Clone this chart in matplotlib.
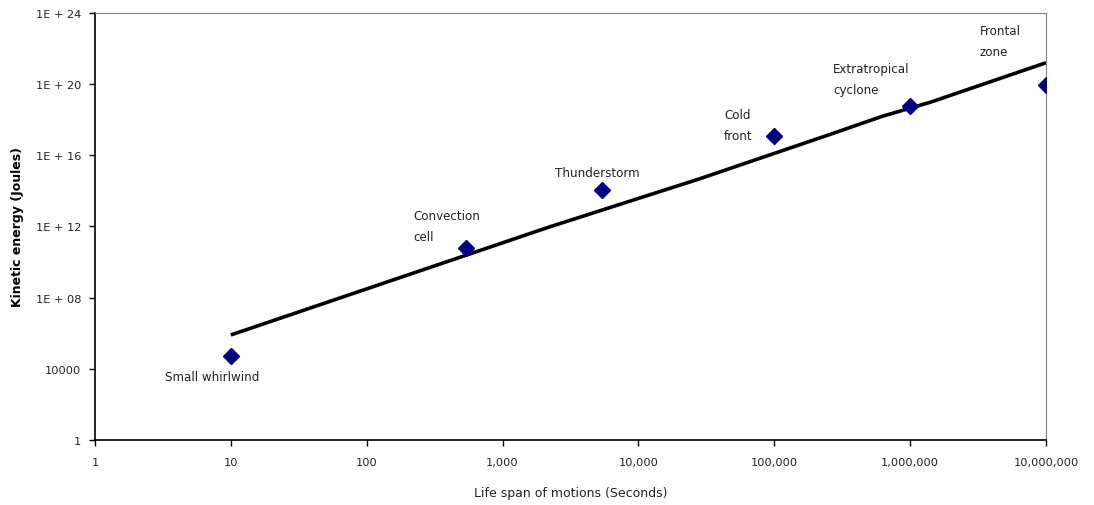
import numpy as np
import matplotlib.pyplot as plt
from matplotlib.ticker import FixedLocator, NullLocator

# Observed motions: life span (s) vs kinetic energy (J)
names = ["Small whirlwind", "Convection\ncell", "Thunderstorm",
         "Cold\nfront", "Extratropical\ncyclone", "Frontal\nzone"]
life_span = [10, 540, 5400, 1.0e5, 1.0e6, 1.0e7]
energy = [5.0e4, 6.0e10, 1.1e14, 1.2e17, 6.0e18, 9.0e19]

# trend curve
trend_x = [10, 2.2e3, 2.8e4, 2.7e5, 4.5e5, 6.3e5, 1.05e6, 1.4e6, 1.0e7]
trend_y = [8.0e5, 9.3e11, 4.7e14, 1.7e17, 6.6e17, 1.6e18, 5.0e18, 9.5e18, 1.6e21]

# label offsets in pixels (dx right, dy down) from each point
label_dx = [-66, -53, -47, -50, -77, -66]
label_dy = [20, -22, -18, -11, -27, -44]

x_ticks = [1, 10, 100, 1e3, 1e4, 1e5, 1e6, 1e7]
x_labels = ["1", "10", "100", "1,000", "10,000", "100,000", "1,000,000", "10,000,000"]
y_ticks = [1, 1e4, 1e8, 1e12, 1e16, 1e20, 1e24]
y_labels = ["1", "10000", "1E + 08", "1E + 12", "1E + 16", "1E + 20", "1E + 24"]

fig = plt.figure(figsize=(10.94, 5.06), dpi=100)
ax = fig.add_axes([0.0868, 0.1285, 0.8693, 0.8438])

ax.plot(trend_x, trend_y, color="black", lw=2.6, solid_capstyle="butt", zorder=2)
ax.plot(life_span, energy, "D", color="#000080", ms=8.5, mec="#000080", zorder=3)

for name, x, y, dx, dy in zip(names, life_span, energy, label_dx, label_dy):
    ax.annotate(name, (x, y), xytext=(dx * 0.72, -dy * 0.72), textcoords="offset points",
                ha="left", va="center", fontsize=8.6, color="#222222", linespacing=1.85)

ax.set_xscale("log")
ax.set_yscale("log")
ax.set_xlim(1, 1e7)
ax.set_ylim(1, 1e24)
ax.xaxis.set_major_locator(FixedLocator(x_ticks))
ax.yaxis.set_major_locator(FixedLocator(y_ticks))
ax.xaxis.set_minor_locator(NullLocator())
ax.yaxis.set_minor_locator(NullLocator())
ax.set_xticklabels(x_labels)
ax.set_yticklabels(y_labels)
ax.tick_params(axis="both", direction="out", length=4, width=1, labelsize=8.2,
               labelcolor="#222222")
ax.tick_params(axis="x", pad=8)
ax.tick_params(axis="y", pad=6)

for side in ["top", "right"]:
    ax.spines[side].set_color("#808080")
    ax.spines[side].set_linewidth(0.8)
for side in ["left", "bottom"]:
    ax.spines[side].set_color("black")
    ax.spines[side].set_linewidth(1.2)

ax.set_xlabel("Life span of motions (Seconds)", fontsize=9, color="#222222")
ax.xaxis.set_label_coords(0.5005, -0.122)
ax.set_ylabel("Kinetic energy (Joules)", fontsize=9, fontweight="bold")
ax.yaxis.set_label_coords(-0.081, 0.5)
ax.yaxis.label.set_verticalalignment("center")
ax.xaxis.label.set_verticalalignment("center")

fig.savefig("out.png", dpi=100)
